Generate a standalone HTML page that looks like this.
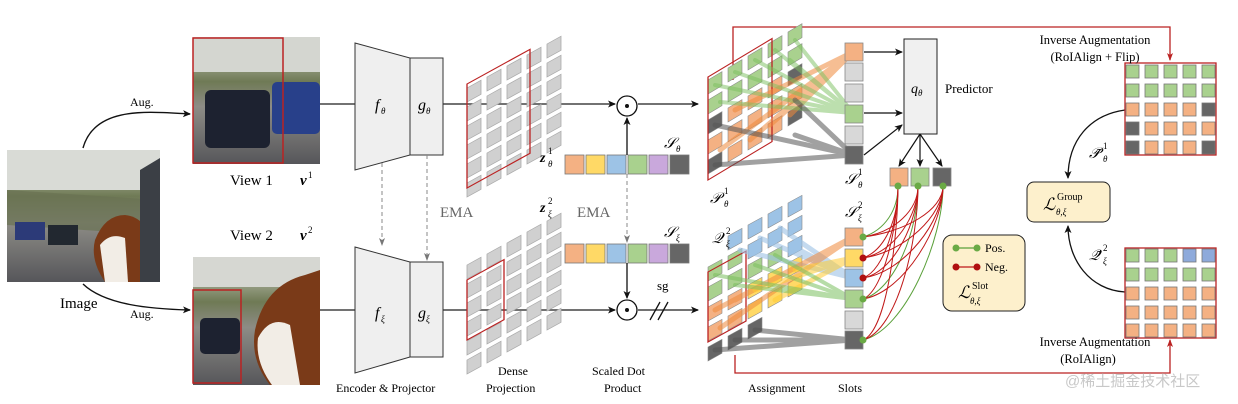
<!DOCTYPE html>
<html><head><meta charset="utf-8"><style>
html,body{margin:0;padding:0;background:#fff;}
svg{display:block;font-family:"Liberation Serif",serif;}
.m{font-style:italic;}
.s{font-size:9px;}
</style></head><body>
<svg width="1238" height="404" viewBox="0 0 1238 404" xmlns="http://www.w3.org/2000/svg">
<defs>
<marker id="a" markerWidth="8" markerHeight="8" refX="7" refY="4" orient="auto" markerUnits="userSpaceOnUse"><path d="M0,0.5 L8,4 L0,7.5 L2,4z" fill="#111"/></marker>
<marker id="ag" markerWidth="8" markerHeight="8" refX="7" refY="4" orient="auto" markerUnits="userSpaceOnUse"><path d="M0,1 L8,4 L0,7 L2,4z" fill="#777"/></marker>
<marker id="ar" markerWidth="8" markerHeight="8" refX="7" refY="4" orient="auto" markerUnits="userSpaceOnUse"><path d="M0,1 L8,4 L0,7 L2,4z" fill="#b22"/></marker>
<linearGradient id="ph" x1="0" y1="0" x2="0" y2="1"><stop offset="0" stop-color="#d8d8d2"/><stop offset="0.35" stop-color="#6f7a55"/><stop offset="0.55" stop-color="#8d8c86"/><stop offset="1" stop-color="#56565a"/></linearGradient>
</defs>

<!-- Original image -->
<rect x="7" y="150" width="153" height="132" fill="url(#ph)"/>
<rect x="7" y="150" width="153" height="40" fill="#d9dbd6"/>
<path d="M7,190 L160,200 L160,235 L7,225z" fill="#6a7253" opacity="0.7"/>
<rect x="15" y="222" width="30" height="18" fill="#2c3a78"/>
<rect x="48" y="225" width="30" height="20" fill="#222830"/>
<path d="M95,240 Q105,215 125,215 Q150,218 150,250 L145,282 L105,282 Q90,260 95,240z" fill="#7a3a18"/>
<path d="M100,245 Q110,232 125,238 L128,282 L105,282z" fill="#f2ede6"/>
<path d="M140,170 L160,158 L160,282 L140,282z" fill="#3b3f45"/>
<text x="60" y="308" font-size="15">Image</text>
<path d="M83,148 C95,105 150,112 190,114" fill="none" stroke="#111" stroke-width="1.4" marker-end="url(#a)"/>
<text x="130" y="106" font-size="12">Aug.</text>
<path d="M83,284 C105,305 150,309 190,310" fill="none" stroke="#111" stroke-width="1.4" marker-end="url(#a)"/>
<text x="130" y="318" font-size="12">Aug.</text>

<!-- View 1 -->
<rect x="193" y="37" width="127" height="127" fill="url(#ph)"/>
<rect x="193" y="37" width="127" height="35" fill="#d4d6d0"/>
<rect x="205" y="90" width="65" height="58" rx="6" fill="#1d2230"/>
<rect x="272" y="82" width="48" height="52" rx="5" fill="#28408a"/>
<rect x="193" y="38" width="90" height="125" fill="none" stroke="#b22" stroke-width="1.5"/>
<text x="230" y="185" font-size="15">View 1</text>
<text x="300" y="185" font-size="15" class="m" font-weight="bold">v</text><text x="308" y="178" class="s">1</text>
<!-- View 2 -->
<rect x="193" y="257" width="127" height="128" fill="url(#ph)"/>
<rect x="193" y="257" width="127" height="30" fill="#d6d7d2"/>
<rect x="200" y="318" width="40" height="36" rx="5" fill="#1d2230"/>
<path d="M255,330 Q265,285 305,275 L320,270 L320,385 L270,385 Q250,360 255,330z" fill="#7a3a18"/>
<path d="M258,338 Q270,315 290,325 L300,385 L272,385 Q255,362 258,338z" fill="#f2ede6"/>
<rect x="193" y="290" width="48" height="93" fill="none" stroke="#b22" stroke-width="1.5"/>
<text x="230" y="240" font-size="15">View 2</text>
<text x="300" y="240" font-size="15" class="m" font-weight="bold">v</text><text x="308" y="233" class="s">2</text>

<!-- main lines -->
<line x1="320" y1="104" x2="355" y2="104" stroke="#444" stroke-width="1.4"/>
<line x1="443" y1="104" x2="615" y2="104" stroke="#444" stroke-width="1.4" marker-end="url(#a)"/>
<line x1="638" y1="104" x2="698" y2="104" stroke="#444" stroke-width="1.4" marker-end="url(#a)"/>
<line x1="320" y1="310" x2="355" y2="310" stroke="#444" stroke-width="1.4"/>
<line x1="443" y1="310" x2="615" y2="310" stroke="#444" stroke-width="1.4" marker-end="url(#a)"/>
<line x1="638" y1="310" x2="698" y2="310" stroke="#444" stroke-width="1.4" marker-end="url(#a)"/>
<path d="M650,320 L660,302 M658,320 L668,302" stroke="#111" stroke-width="1.3"/>
<text x="657" y="290" font-size="13">sg</text>

<!-- Encoders -->
<path d="M355,43 L410,58 L410,155 L355,170z" fill="#efefef" stroke="#333" stroke-width="1"/>
<rect x="410" y="58" width="33" height="97" fill="#efefef" stroke="#333" stroke-width="1"/>
<text x="375" y="110" font-size="16" class="m">f</text><text x="381" y="114" class="s m">θ</text>
<text x="418" y="110" font-size="16" class="m">g</text><text x="426" y="114" class="s m">θ</text>
<path d="M355,247 L410,262 L410,357 L355,373z" fill="#efefef" stroke="#333" stroke-width="1"/>
<rect x="410" y="262" width="33" height="95" fill="#efefef" stroke="#333" stroke-width="1"/>
<text x="375" y="318" font-size="16" class="m">f</text><text x="381" y="322" class="s m">ξ</text>
<text x="418" y="318" font-size="16" class="m">g</text><text x="426" y="322" class="s m">ξ</text>
<line x1="382" y1="163" x2="382" y2="245" stroke="#888" stroke-width="1" stroke-dasharray="4,3" marker-end="url(#ag)"/>
<line x1="427" y1="155" x2="427" y2="260" stroke="#888" stroke-width="1" stroke-dasharray="4,3" marker-end="url(#ag)"/>
<text x="440" y="217" font-size="15" fill="#666">EMA</text>
<text x="336" y="392" font-size="12">Encoder &amp; Projector</text>

<!-- Dense grids -->
<g transform="translate(467,88) matrix(1,-0.55,0,1,0,0)" fill="#d0d0d0" stroke="#aaa" stroke-width="0.8">
<g id="gr"><rect x="0" y="0" width="14" height="14"/><rect x="20" y="0" width="14" height="14"/><rect x="40" y="0" width="14" height="14"/><rect x="60" y="0" width="14" height="14"/><rect x="80" y="0" width="14" height="14"/></g>
<use href="#gr" y="19"/><use href="#gr" y="38"/><use href="#gr" y="57"/><use href="#gr" y="76"/><use href="#gr" y="95"/>
<rect x="0" y="-4" width="63" height="104" fill="none" stroke="#b22" stroke-width="1.3"/>
</g>
<g transform="translate(467,265) matrix(1,-0.55,0,1,0,0)" fill="#d0d0d0" stroke="#aaa" stroke-width="0.8">
<use href="#gr" y="0"/><use href="#gr" y="19"/><use href="#gr" y="38"/><use href="#gr" y="57"/><use href="#gr" y="76"/><use href="#gr" y="95"/>
<rect x="0" y="15" width="37" height="60" fill="none" stroke="#b22" stroke-width="1.3"/>
</g>
<text x="540" y="162" font-size="14" class="m" font-weight="bold">z</text><text x="548" y="154" class="s">1</text><text x="548" y="167" class="s m">θ</text>
<text x="540" y="212" font-size="14" class="m" font-weight="bold">z</text><text x="548" y="204" class="s">2</text><text x="548" y="217" class="s m">ξ</text>
<text x="498" y="375" font-size="12">Dense</text>
<text x="486" y="392" font-size="12">Projection</text>

<!-- slot vectors -->
<g stroke="#777" stroke-width="0.8">
<rect x="565" y="155" width="19" height="19" fill="#f4b183"/><rect x="586" y="155" width="19" height="19" fill="#ffd966"/><rect x="607" y="155" width="19" height="19" fill="#9dc3e6"/><rect x="628" y="155" width="19" height="19" fill="#a9d18e"/><rect x="649" y="155" width="19" height="19" fill="#c9a8dc"/><rect x="670" y="155" width="19" height="19" fill="#666"/>
<rect x="565" y="244" width="19" height="19" fill="#f4b183"/><rect x="586" y="244" width="19" height="19" fill="#ffd966"/><rect x="607" y="244" width="19" height="19" fill="#9dc3e6"/><rect x="628" y="244" width="19" height="19" fill="#a9d18e"/><rect x="649" y="244" width="19" height="19" fill="#c9a8dc"/><rect x="670" y="244" width="19" height="19" fill="#666"/>
</g>
<text x="664" y="148" font-size="15" class="m">𝒮</text><text x="676" y="152" class="s m">θ</text>
<text x="664" y="237" font-size="15" class="m">𝒮</text><text x="676" y="241" class="s m">ξ</text>
<line x1="627" y1="155" x2="627" y2="118" stroke="#111" stroke-width="1.3" marker-end="url(#a)"/>
<line x1="627" y1="174" x2="627" y2="242" stroke="#888" stroke-width="1" stroke-dasharray="4,3" marker-end="url(#ag)"/>
<line x1="627" y1="263" x2="627" y2="298" stroke="#111" stroke-width="1.3" marker-end="url(#a)"/>
<text x="577" y="217" font-size="15" fill="#666">EMA</text>
<circle cx="627" cy="106" r="10" fill="#fff" stroke="#111" stroke-width="1.3"/><circle cx="627" cy="106" r="2" fill="#111"/>
<circle cx="627" cy="310" r="10" fill="#fff" stroke="#111" stroke-width="1.3"/><circle cx="627" cy="310" r="2" fill="#111"/>
<text x="592" y="375" font-size="12">Scaled Dot</text>
<text x="604" y="392" font-size="12">Product</text>

<!-- red connectors -->
<path d="M733,80 L733,27 L1170,27 L1170,60" fill="none" stroke="#b22" stroke-width="1.3" marker-end="url(#ar)"/>
<path d="M735,355 L735,373 L1170,373 L1170,340" fill="none" stroke="#b22" stroke-width="1.3" marker-end="url(#ar)"/>

<!-- P grid -->
<g transform="translate(708,80) matrix(1,-0.6,0,1,0,0)" stroke="#888" stroke-width="0.6">
<g fill="#a9d18e"><rect x="0" y="0" width="14" height="14"/><rect x="20" y="0" width="14" height="14"/><rect x="40" y="0" width="14" height="14"/><rect x="60" y="0" width="14" height="14"/><rect x="80" y="0" width="14" height="14"/>
<rect x="0" y="20" width="14" height="14"/><rect x="20" y="20" width="14" height="14"/><rect x="40" y="20" width="14" height="14"/><rect x="60" y="20" width="14" height="14"/><rect x="80" y="20" width="14" height="14"/></g>
<g fill="#f4b183"><rect x="20" y="40" width="14" height="14"/><rect x="40" y="40" width="14" height="14"/><rect x="60" y="40" width="14" height="14"/><rect x="0" y="60" width="14" height="14"/><rect x="20" y="60" width="14" height="14"/><rect x="40" y="60" width="14" height="14"/><rect x="60" y="60" width="14" height="14"/><rect x="80" y="60" width="14" height="14"/><rect x="20" y="80" width="14" height="14"/><rect x="40" y="80" width="14" height="14"/><rect x="60" y="80" width="14" height="14"/></g>
<g fill="#666"><rect x="0" y="40" width="14" height="14"/><rect x="80" y="40" width="14" height="14"/><rect x="0" y="80" width="14" height="14"/><rect x="80" y="80" width="14" height="14"/></g>
<rect x="0" y="-3" width="64" height="103" fill="none" stroke="#b22" stroke-width="1.3"/>
</g>
<g stroke-linecap="round" fill="none">
<g stroke="#f08a3c" stroke-width="5" opacity="0.55"><line x1="735" y1="110" x2="853" y2="52"/><line x1="750" y1="140" x2="853" y2="52"/><line x1="770" y1="125" x2="853" y2="52"/><line x1="790" y1="115" x2="853" y2="52"/><line x1="720" y1="150" x2="853" y2="52"/></g>
<g stroke="#7cc060" stroke-width="4" opacity="0.5"><line x1="715" y1="85" x2="853" y2="113"/><line x1="735" y1="72" x2="853" y2="113"/><line x1="755" y1="60" x2="853" y2="113"/><line x1="775" y1="50" x2="853" y2="113"/><line x1="795" y1="40" x2="853" y2="113"/><line x1="720" y1="102" x2="853" y2="113"/><line x1="790" y1="60" x2="853" y2="113"/></g>
<g stroke="#555" stroke-width="5" opacity="0.55"><line x1="715" y1="125" x2="853" y2="155"/><line x1="715" y1="165" x2="853" y2="155"/><line x1="795" y1="100" x2="853" y2="155"/><line x1="795" y1="135" x2="853" y2="155"/></g>
</g>
<text x="710" y="203" font-size="15" class="m">𝒫</text><text x="724" y="194" class="s">1</text><text x="724" y="207" class="s m">θ</text>

<!-- top slots -->
<g stroke="#888" stroke-width="0.8">
<rect x="845" y="43" width="18" height="18" fill="#f4b183"/><rect x="845" y="63" width="18" height="18" fill="#d8d8d8"/><rect x="845" y="84" width="18" height="18" fill="#d8d8d8"/><rect x="845" y="105" width="18" height="18" fill="#a9d18e"/><rect x="845" y="126" width="18" height="18" fill="#d8d8d8"/><rect x="845" y="146" width="18" height="18" fill="#666"/>
</g>
<text x="845" y="184" font-size="15" class="m">𝒮</text><text x="858" y="175" class="s">1</text><text x="858" y="188" class="s m">θ</text>
<rect x="904" y="39" width="33" height="95" fill="#f0f0f0" stroke="#222" stroke-width="1"/>
<text x="911" y="93" font-size="14" class="m">q</text><text x="918" y="96" class="s m">θ</text>
<text x="945" y="93" font-size="13">Predictor</text>
<line x1="864" y1="52" x2="902" y2="52" stroke="#111" stroke-width="1.2" marker-end="url(#a)"/>
<line x1="864" y1="113" x2="902" y2="113" stroke="#111" stroke-width="1.2" marker-end="url(#a)"/>
<line x1="864" y1="155" x2="902" y2="125" stroke="#111" stroke-width="1.2" marker-end="url(#a)"/>
<line x1="920" y1="134" x2="899" y2="166" stroke="#111" stroke-width="1.2" marker-end="url(#a)"/>
<line x1="920" y1="134" x2="920" y2="166" stroke="#111" stroke-width="1.2" marker-end="url(#a)"/>
<line x1="920" y1="134" x2="942" y2="166" stroke="#111" stroke-width="1.2" marker-end="url(#a)"/>
<g stroke="#888" stroke-width="0.8"><rect x="890" y="168" width="18" height="18" fill="#f4b183"/><rect x="911" y="168" width="18" height="18" fill="#a9d18e"/><rect x="933" y="168" width="18" height="18" fill="#666"/></g>

<!-- Q grid -->
<g transform="translate(708,267) matrix(1,-0.55,0,1,0,0)" stroke="#888" stroke-width="0.6">
<g fill="#a9d18e"><rect x="0" y="0" width="14" height="14"/><rect x="20" y="0" width="14" height="14"/><rect x="0" y="20" width="14" height="14"/><rect x="20" y="20" width="14" height="14"/><rect x="40" y="20" width="14" height="14"/><rect x="60" y="20" width="14" height="14"/></g>
<g fill="#9dc3e6"><rect x="40" y="0" width="14" height="14"/><rect x="60" y="0" width="14" height="14"/><rect x="80" y="0" width="14" height="14"/><rect x="20" y="-20" width="14" height="14"/><rect x="40" y="-20" width="14" height="14"/><rect x="60" y="-20" width="14" height="14"/><rect x="80" y="-20" width="14" height="14"/><rect x="80" y="20" width="14" height="14"/></g>
<g fill="#f4b183"><rect x="0" y="40" width="14" height="14"/><rect x="20" y="40" width="14" height="14"/><rect x="0" y="60" width="14" height="14"/><rect x="20" y="60" width="14" height="14"/></g>
<g fill="#ffd966"><rect x="40" y="40" width="14" height="14"/><rect x="60" y="40" width="14" height="14"/><rect x="80" y="40" width="14" height="14"/><rect x="40" y="60" width="14" height="14"/><rect x="60" y="60" width="14" height="14"/><rect x="80" y="60" width="14" height="14"/></g>
<g fill="#666"><rect x="0" y="80" width="14" height="14"/><rect x="20" y="80" width="14" height="14"/><rect x="40" y="80" width="14" height="14"/></g>
<rect x="0" y="5" width="38" height="70" fill="none" stroke="#b22" stroke-width="1.3"/>
</g>
<g stroke-linecap="round" fill="none">
<g stroke="#9dc3e6" stroke-width="5" opacity="0.6"><line x1="740" y1="250" x2="853" y2="278"/><line x1="760" y1="238" x2="853" y2="278"/><line x1="780" y1="228" x2="853" y2="278"/><line x1="790" y1="245" x2="853" y2="278"/></g>
<g stroke="#f08a3c" stroke-width="5" opacity="0.55"><line x1="715" y1="310" x2="853" y2="237"/><line x1="735" y1="300" x2="853" y2="237"/><line x1="720" y1="328" x2="853" y2="237"/></g>
<g stroke="#ffcc33" stroke-width="5" opacity="0.55"><line x1="755" y1="290" x2="853" y2="258"/><line x1="775" y1="300" x2="853" y2="258"/><line x1="795" y1="270" x2="853" y2="258"/></g>
<g stroke="#7cc060" stroke-width="4" opacity="0.55"><line x1="715" y1="275" x2="853" y2="299"/><line x1="735" y1="285" x2="853" y2="299"/><line x1="755" y1="265" x2="853" y2="299"/><line x1="775" y1="255" x2="853" y2="299"/></g>
<g stroke="#555" stroke-width="5" opacity="0.55"><line x1="715" y1="350" x2="853" y2="340"/><line x1="735" y1="340" x2="853" y2="340"/><line x1="755" y1="330" x2="853" y2="340"/></g>
</g>
<text x="712" y="243" font-size="15" class="m">𝒬</text><text x="726" y="234" class="s">2</text><text x="726" y="247" class="s m">ξ</text>

<!-- bottom slots -->
<text x="845" y="217" font-size="15" class="m">𝒮</text><text x="858" y="208" class="s">2</text><text x="858" y="221" class="s m">ξ</text>
<g stroke="#888" stroke-width="0.8">
<rect x="845" y="228" width="18" height="18" fill="#f4b183"/><rect x="845" y="249" width="18" height="18" fill="#ffd966"/><rect x="845" y="269" width="18" height="18" fill="#9dc3e6"/><rect x="845" y="290" width="18" height="18" fill="#a9d18e"/><rect x="845" y="311" width="18" height="18" fill="#d8d8d8"/><rect x="845" y="331" width="18" height="18" fill="#666"/>
</g>
<g fill="none" stroke-width="1">
<path d="M863,237 C885,230 898,210 898,186" stroke="#5aa03a"/>
<path d="M863,299 C895,290 918,230 918,186" stroke="#5aa03a"/>
<path d="M863,340 C905,330 943,240 943,186" stroke="#5aa03a"/>
<g stroke="#c01818">
<path d="M863,258 C885,250 898,220 898,186"/><path d="M863,278 C885,270 898,220 898,186"/><path d="M863,299 C885,290 898,220 898,186"/><path d="M863,340 C888,330 898,230 898,186"/>
<path d="M863,237 C895,232 918,210 918,186"/><path d="M863,258 C895,252 918,215 918,186"/><path d="M863,278 C895,272 918,220 918,186"/><path d="M863,340 C898,330 918,240 918,186"/>
<path d="M863,237 C905,232 943,210 943,186"/><path d="M863,258 C905,252 943,215 943,186"/><path d="M863,278 C905,272 943,220 943,186"/><path d="M863,299 C905,292 943,225 943,186"/>
</g>
</g>
<g><circle cx="898" cy="186" r="3.5" fill="#6aaa45"/><circle cx="918" cy="186" r="3.5" fill="#6aaa45"/><circle cx="943" cy="186" r="3.5" fill="#6aaa45"/>
<circle cx="863" cy="237" r="3.5" fill="#6aaa45"/><circle cx="863" cy="258" r="3.5" fill="#b01010"/><circle cx="863" cy="278" r="3.5" fill="#b01010"/><circle cx="863" cy="299" r="3.5" fill="#6aaa45"/><circle cx="863" cy="340" r="3.5" fill="#6aaa45"/></g>
<text x="748" y="392" font-size="12">Assignment</text>
<text x="838" y="392" font-size="12">Slots</text>

<!-- legend box -->
<rect x="943" y="235" width="82" height="76" rx="9" fill="#fdf0cc" stroke="#222" stroke-width="1"/>
<line x1="956" y1="248" x2="977" y2="248" stroke="#5aa03a" stroke-width="1.3"/><circle cx="956" cy="248" r="3.5" fill="#6aaa45"/><circle cx="977" cy="248" r="3.5" fill="#6aaa45"/>
<text x="985" y="252" font-size="12">Pos.</text>
<line x1="956" y1="267" x2="977" y2="267" stroke="#c01818" stroke-width="1.3"/><circle cx="956" cy="267" r="3.5" fill="#b01010"/><circle cx="977" cy="267" r="3.5" fill="#b01010"/>
<text x="985" y="271" font-size="12">Neg.</text>
<text x="958" y="298" font-size="17" class="m">ℒ</text><text x="972" y="289" font-size="10">Slot</text><text x="970" y="304" class="s m">θ,ξ</text>

<!-- group loss -->
<rect x="1027" y="182" width="83" height="40" rx="7" fill="#fdf0cc" stroke="#222" stroke-width="1"/>
<text x="1043" y="210" font-size="17" class="m">ℒ</text><text x="1057" y="200" font-size="10">Group</text><text x="1056" y="215" class="s m">θ,ξ</text>
<path d="M1125,110 C1090,115 1068,140 1068,178" fill="none" stroke="#111" stroke-width="1.3" marker-end="url(#a)"/>
<path d="M1125,292 C1090,290 1068,260 1068,226" fill="none" stroke="#111" stroke-width="1.3" marker-end="url(#a)"/>
<text x="1089" y="158" font-size="15" class="m">𝒫̃</text><text x="1103" y="149" class="s">1</text><text x="1103" y="162" class="s m">θ</text>
<text x="1089" y="260" font-size="15" class="m">𝒬̃</text><text x="1103" y="251" class="s">2</text><text x="1103" y="264" class="s m">ξ</text>

<!-- right grids -->
<g stroke="#777" stroke-width="0.8">
<rect x="1125" y="63" width="91" height="92" fill="#fff" stroke="#b22" stroke-width="1.3"/>
<g fill="#a9d18e"><rect x="1126" y="65" width="13" height="13"/><rect x="1145" y="65" width="13" height="13"/><rect x="1164" y="65" width="13" height="13"/><rect x="1183" y="65" width="13" height="13"/><rect x="1202" y="65" width="13" height="13"/>
<rect x="1126" y="84" width="13" height="13"/><rect x="1145" y="84" width="13" height="13"/><rect x="1164" y="84" width="13" height="13"/><rect x="1183" y="84" width="13" height="13"/><rect x="1202" y="84" width="13" height="13"/></g>
<g fill="#f4b183"><rect x="1126" y="103" width="13" height="13"/><rect x="1145" y="103" width="13" height="13"/><rect x="1164" y="103" width="13" height="13"/><rect x="1183" y="103" width="13" height="13"/>
<rect x="1145" y="122" width="13" height="13"/><rect x="1164" y="122" width="13" height="13"/><rect x="1183" y="122" width="13" height="13"/><rect x="1202" y="122" width="13" height="13"/>
<rect x="1145" y="141" width="13" height="13"/><rect x="1164" y="141" width="13" height="13"/><rect x="1183" y="141" width="13" height="13"/></g>
<g fill="#666"><rect x="1202" y="103" width="13" height="13"/><rect x="1126" y="122" width="13" height="13"/><rect x="1126" y="141" width="13" height="13"/><rect x="1202" y="141" width="13" height="13"/></g>
<rect x="1125" y="248" width="91" height="90" fill="#fff" stroke="#b22" stroke-width="1.3"/>
<g fill="#a9d18e"><rect x="1126" y="249" width="13" height="13"/><rect x="1145" y="249" width="13" height="13"/><rect x="1164" y="249" width="13" height="13"/>
<rect x="1126" y="268" width="13" height="13"/><rect x="1145" y="268" width="13" height="13"/><rect x="1164" y="268" width="13" height="13"/><rect x="1183" y="268" width="13" height="13"/><rect x="1202" y="268" width="13" height="13"/></g>
<g fill="#8eaadb"><rect x="1183" y="249" width="13" height="13"/><rect x="1202" y="249" width="13" height="13"/></g>
<g fill="#f4b183"><rect x="1126" y="287" width="13" height="13"/><rect x="1145" y="287" width="13" height="13"/><rect x="1164" y="287" width="13" height="13"/><rect x="1183" y="287" width="13" height="13"/><rect x="1202" y="287" width="13" height="13"/>
<rect x="1126" y="306" width="13" height="13"/><rect x="1145" y="306" width="13" height="13"/><rect x="1164" y="306" width="13" height="13"/><rect x="1183" y="306" width="13" height="13"/><rect x="1202" y="306" width="13" height="13"/>
<rect x="1126" y="324" width="13" height="13"/><rect x="1145" y="324" width="13" height="13"/><rect x="1164" y="324" width="13" height="13"/><rect x="1183" y="324" width="13" height="13"/><rect x="1202" y="324" width="13" height="13"/></g>
</g>
<text x="1095" y="44" font-size="12.5" text-anchor="middle">Inverse Augmentation</text>
<text x="1095" y="61" font-size="12.5" text-anchor="middle">(RoIAlign + Flip)</text>
<text x="1095" y="346" font-size="12.5" text-anchor="middle">Inverse Augmentation</text>
<text x="1088" y="363" font-size="12.5" text-anchor="middle">(RoIAlign)</text>
<text x="1065" y="386" font-size="15" fill="#c8c8c8" font-family="'Liberation Sans','Noto Sans CJK SC',sans-serif">@稀土掘金技术社区</text>
</svg>
</body></html>
